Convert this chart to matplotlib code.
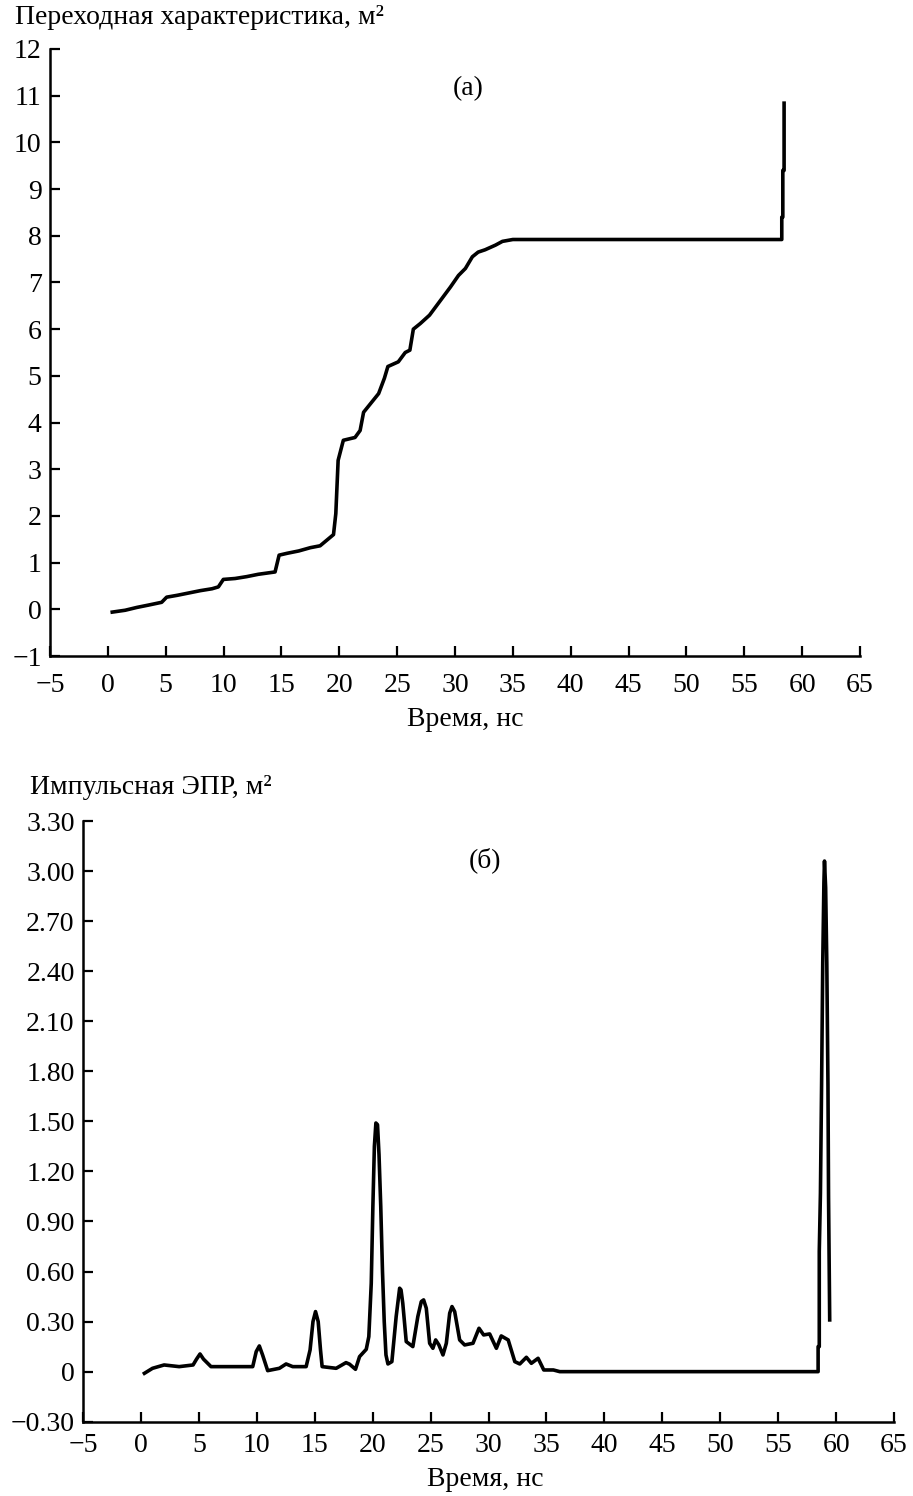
import matplotlib
matplotlib.use("Agg")
import matplotlib.pyplot as plt
from matplotlib.ticker import FuncFormatter

plt.rcParams['font.family'] = ['Liberation Serif', 'DejaVu Serif']
plt.rcParams['axes.unicode_minus'] = True

# (а) transient characteristic, m^2
t_step = [0.38, 1.5, 2.5, 3.5, 4.65, 5.08, 6.0, 7.0, 8.0, 9.0, 9.55, 9.98, 11.0, 12.0, 13.0, 14.45,
          14.8, 15.5, 16.5, 17.5, 18.34, 19.5, 19.7, 19.9, 20.35, 21.36, 21.8, 22.1, 23.4,
          23.9, 24.2, 25.1, 25.7, 26.1, 26.4, 27.0, 27.8, 28.7, 29.6, 30.3, 30.9, 31.5,
          32.0, 32.6, 33.5, 34.1, 35.0, 40.0, 50.0, 58.24, 58.24, 58.33, 58.33, 58.44, 58.44]
v_step = [-0.06, -0.02, 0.04, 0.09, 0.15, 0.26, 0.30, 0.35, 0.40, 0.44, 0.48, 0.64, 0.66, 0.70, 0.75, 0.80,
          1.16, 1.20, 1.25, 1.32, 1.36, 1.60, 2.05, 3.19, 3.62, 3.68, 3.83, 4.22, 4.62,
          4.95, 5.2, 5.3, 5.5, 5.55, 6.0, 6.12, 6.3, 6.6, 6.9, 7.15, 7.3, 7.55,
          7.65, 7.7, 7.8, 7.88, 7.92, 7.92, 7.92, 7.92, 8.4, 8.4, 9.4, 9.4, 10.84]

# (б) impulse RCS, m^2
t_imp = [0.3, 1.0, 2.0, 3.3, 4.5, 4.8, 5.1, 5.4, 6.05, 8.0, 9.65, 9.95, 10.22, 10.5, 10.94, 11.95,
         12.53, 13.1, 14.26, 14.6, 14.85, 15.07, 15.3, 15.5, 15.64, 16.85, 17.7, 18.0, 18.52,
         18.87, 19.45, 19.67, 19.88, 20.02, 20.15, 20.28, 20.42, 20.55, 20.7, 20.85, 21.0, 21.15,
         21.32, 21.66, 22.03, 22.33, 22.45, 22.6, 22.9, 23.47, 23.9, 24.2, 24.4, 24.63, 24.92,
         25.2, 25.44, 25.72, 26.07, 26.36, 26.65, 26.85, 27.08, 27.51, 27.94, 28.66, 29.18, 29.58,
         30.1, 30.68, 31.1, 31.7, 32.27, 32.7, 33.27, 33.7, 34.28, 34.77, 35.6, 36.15,
         45.0, 58.45, 58.45, 58.55, 58.55, 58.65, 58.75, 58.85, 58.95, 59.0, 59.1, 59.2, 59.3,
         59.35, 59.45]
v_imp = [-0.01, 0.02, 0.04, 0.03, 0.04, 0.075, 0.106, 0.075, 0.03, 0.03, 0.03, 0.12, 0.154, 0.1, 0.006, 0.02,
         0.046, 0.03, 0.03, 0.13, 0.3, 0.36, 0.3, 0.13, 0.03, 0.02, 0.054, 0.045, 0.014,
         0.09, 0.134, 0.21, 0.53, 0.99, 1.35, 1.49, 1.48, 1.3, 0.99, 0.6, 0.3, 0.1,
         0.046, 0.06, 0.33, 0.50, 0.49, 0.41, 0.18, 0.15, 0.33, 0.42, 0.43, 0.38, 0.17,
         0.14, 0.19, 0.16, 0.10, 0.17, 0.35, 0.39, 0.36, 0.19, 0.16, 0.17, 0.26, 0.22,
         0.226, 0.14, 0.214, 0.19, 0.06, 0.046, 0.086, 0.05, 0.08, 0.01, 0.01, 0.0,
         0.0, 0.0, 0.15, 0.15, 0.72, 1.07, 1.72, 2.45, 2.93, 3.06, 2.9, 2.45, 1.72,
         1.05, 0.31]

x_ticks = list(range(-5, 70, 5))
y_ticks_a = list(range(-1, 13))
y_ticks_b = [-0.3, 0, 0.3, 0.6, 0.9, 1.2, 1.5, 1.8, 2.1, 2.4, 2.7, 3.0, 3.3]

fs = 20

def fmt_b(v, pos):
    if abs(v) < 1e-9:
        return "0"
    return ("%.2f" % v).replace("-", "\u2212")

def style(ax, xpad):
    for s in ['top', 'right']:
        ax.spines[s].set_visible(False)
    for s in ['left', 'bottom']:
        ax.spines[s].set_linewidth(1.8)
    ax.tick_params(direction='in', length=7, width=1.6, labelsize=fs, pad=6)
    ax.tick_params(axis='x', pad=xpad)

fig = plt.figure(figsize=(9.13, 14.96), dpi=100)

ax1 = fig.add_axes([50/913, 1-656/1496, 810/913, 607/1496])
ax1.plot(t_step, v_step, color='black', lw=2.6)
ax1.set_xlim(-5, 65)
ax1.set_ylim(-1, 12)
ax1.set_xticks(x_ticks)
ax1.set_yticks(y_ticks_a)
style(ax1, 12)
ax1.text(0.516, 0.935, "(а)", transform=ax1.transAxes, fontsize=fs, ha='center', va='center')

ax2 = fig.add_axes([83/913, 1-1421.7/1496, 811/913, 600.7/1496])
ax2.plot(t_imp, v_imp, color='black', lw=2.6)
ax2.set_xlim(-5, 65)
ax2.set_ylim(-0.3, 3.3)
ax2.set_xticks(x_ticks)
ax2.set_yticks(y_ticks_b)
ax2.yaxis.set_major_formatter(FuncFormatter(fmt_b))
style(ax2, 8)
ax2.text(0.496, 0.935, "(б)", transform=ax2.transAxes, fontsize=fs, ha='center', va='center')

fig.text(15/913, 1-18/1496, "Переходная характеристика, м²", fontsize=fs, ha='left', va='center')
fig.text(30/913, 1-788/1496, "Импульсная ЭПР, м²", fontsize=fs, ha='left', va='center')
fig.text(465/913, 1-720/1496, "Время, нс", fontsize=fs, ha='center', va='center')
fig.text(485/913, 1-1480/1496, "Время, нс", fontsize=fs, ha='center', va='center')

fig.savefig("out.png", dpi=100)
